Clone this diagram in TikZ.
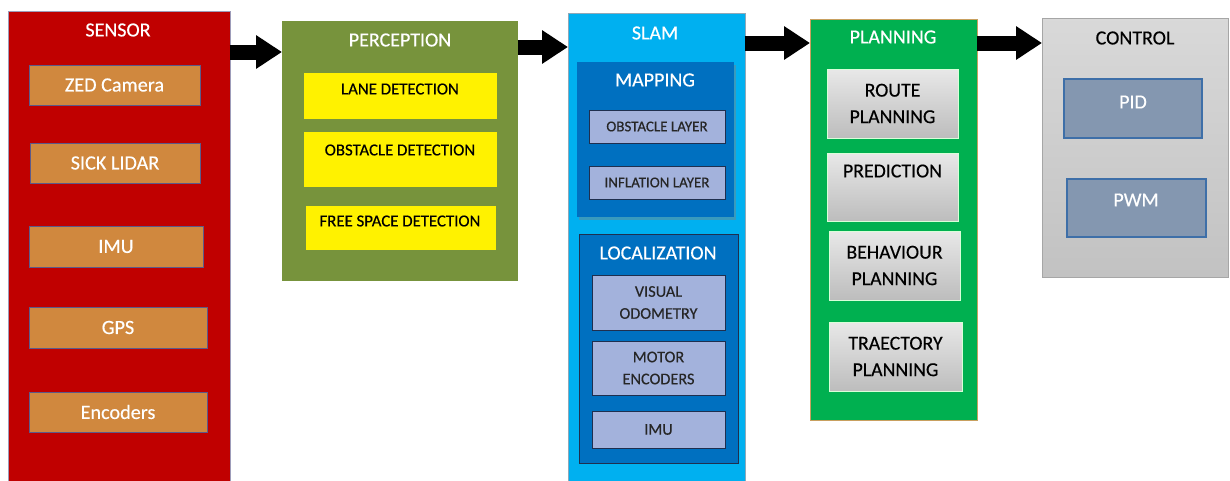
\documentclass[tikz,border=0pt]{standalone}
\usepackage{fontspec}
\setmainfont{Carlito}[FakeBold=0.35]
\usetikzlibrary{arrows.meta,shadows}

\definecolor{sensred}{HTML}{C00000}
\definecolor{sensitem}{HTML}{D0883E}
\definecolor{sensedge}{HTML}{5C5A8A}
\definecolor{percgreen}{HTML}{77933C}
\definecolor{slamblue}{HTML}{00B0F0}
\definecolor{slamedge}{HTML}{8FA8B8}
\definecolor{deepblue}{HTML}{0070C0}
\definecolor{lavender}{HTML}{A3B2DC}
\definecolor{navyedge}{HTML}{1F2F4F}
\definecolor{plangreen}{HTML}{00B050}
\definecolor{tanedge}{HTML}{C8A060}
\definecolor{ctrlslate}{HTML}{8497B0}
\definecolor{ctrledge}{HTML}{3E6FA8}

\newcommand\fs[2]{\fontsize{#1}{#2}\selectfont}
% block from (x1,y1) to (x2,y2) in pixel-like units
\newcommand\blk[7]{\node[#6, minimum width={#4-#2}, minimum height={#5-#3}] (#1) at ({(#2+#4)/2},{(#3+#5)/2}) {#7};}

\tikzset{
  every node/.style={inner sep=0pt, outer sep=0pt},
  panel/.style={rectangle},
  sensorpanel/.style={panel, fill=sensred, draw=sensedge!60, line width=0.6pt},
  sensoritem/.style={panel, fill=sensitem, draw=sensedge, line width=1pt, text=white, font=\fs{20.2}{24}},
  percpanel/.style={panel, fill=percgreen},
  percitem/.style={panel, fill=yellow},
  perctext/.style={text=black, font=\fs{16.8}{20}},
  slampanel/.style={panel, fill=slamblue, draw=slamedge, line width=0.6pt},
  mappanel/.style={panel, fill=deepblue, drop shadow={shadow xshift=1.5pt, shadow yshift=-2.5pt, opacity=0.45}},
  locpanel/.style={panel, fill=deepblue, draw=navyedge, line width=0.8pt},
  mapitem/.style={panel, fill=lavender, draw=navyedge, line width=0.8pt, text=black!85, font=\fs{15}{18}},
  locitem/.style={panel, fill=lavender, draw=navyedge, line width=0.8pt, text=black!85, font=\fs{16.3}{22}, align=center},
  planpanel/.style={panel, fill=plangreen, draw=tanedge, line width=0.8pt},
  planitem/.style={panel, top color=black!9, bottom color=black!26, draw=green!15, line width=1pt, text=black, font=\fs{19.8}{26.5}, align=center},
  ctrlpanel/.style={panel, top color=black!15, bottom color=black!24, draw=black!35, line width=0.6pt},
  ctrlitem/.style={panel, fill=ctrlslate, draw=ctrledge, line width=1.2pt},
  titlew/.style={text=white, font=\fs{20}{24}},
  titleb/.style={text=black, font=\fs{20}{24}},
  itemw/.style={text=white, font=\fs{20}{24}},
  itemb/.style={text=black, font=\fs{19.8}{24}},
  bigarrow/.style={line width=15pt, -{Triangle[length=26pt, width=32pt]}, shorten <=-0.5pt},
}

\begin{document}
\begin{tikzpicture}[x=1pt, y=-1pt]
\useasboundingbox[fill=white] (0,0) rectangle (1230,480);

% ---------- SENSOR ----------
\blk{sensor}{8}{11}{230}{484}{sensorpanel}{}
\node[titlew] (sensorT) at (118,30) {SENSOR};
\blk{zed}{29}{65}{200}{105}{sensoritem}{ZED Camera}
\blk{lidar}{30}{143}{200}{183}{sensoritem}{SICK LIDAR}
\blk{simu}{29}{226}{203}{267}{sensoritem}{IMU}
\blk{gps}{29}{307}{207}{348}{sensoritem}{GPS}
\blk{enc}{29}{392}{207}{432}{sensoritem}{Encoders}

% ---------- PERCEPTION ----------
\blk{perc}{282}{21}{518}{281}{percpanel}{}
\node[titlew] (percT) at (400,40) {PERCEPTION};
\blk{lane}{304}{73}{497}{119}{percitem}{}
\node[perctext] (laneT) at (400,89) {LANE DETECTION};
\blk{obst}{304}{132}{497}{187}{percitem}{}
\node[perctext] (obstT) at (400,150) {OBSTACLE DETECTION};
\blk{free}{306}{206}{496}{250}{percitem}{}
\node[perctext] (freeT) at (400,221) {FREE SPACE DETECTION};

% ---------- SLAM ----------
\blk{slam}{568}{13}{745}{484}{slampanel}{}
\node[titlew] (slamT) at (655,33) {SLAM};
\blk{mapping}{577}{62}{734}{217}{mappanel}{}
\node[titlew] (mapT) at (655,80) {MAPPING};
\blk{olayer}{589}{110}{725}{143}{mapitem}{OBSTACLE LAYER}
\blk{ilayer}{589}{166}{725}{199}{mapitem}{INFLATION LAYER}
\blk{loc}{579}{234}{738}{463}{locpanel}{}
\node[titlew] (locT) at (658,253) {LOCALIZATION};
\blk{vodo}{592}{275}{725}{330}{locitem}{VISUAL\\ODOMETRY}
\blk{menc}{592}{341}{725}{395}{locitem}{MOTOR\\ENCODERS}
\blk{limu}{592}{411}{725}{448}{locitem}{IMU}

% ---------- PLANNING ----------
\blk{plan}{810}{19}{977}{420}{planpanel}{}
\node[titlew] (planT) at (893,37) {PLANNING};
\blk{route}{827}{69}{958}{138}{planitem}{ROUTE\\PLANNING}
\blk{pred}{827}{153}{958}{221}{planitem}{}
\node[itemb] (predT) at (892.5,171) {PREDICTION};
\blk{behav}{829}{231}{960}{300}{planitem}{BEHAVIOUR\\PLANNING}
\blk{traj}{829}{322}{962}{391}{planitem}{TRAECTORY\\PLANNING}

% ---------- CONTROL ----------
\blk{ctrl}{1042}{18}{1228}{277}{ctrlpanel}{}
\node[titleb] (ctrlT) at (1135,38) {CONTROL};
\blk{pid}{1064}{79}{1202}{138}{ctrlitem}{}
\node[itemw] (pidT) at (1133,102) {PID};
\blk{pwm}{1067}{179}{1206}{237}{ctrlitem}{}
\node[itemw] (pwmT) at (1136,200) {PWM};

% ---------- flow arrows ----------
\coordinate (r1) at (0,52);
\coordinate (r2) at (0,47);
\coordinate (r3) at (0,43);
\coordinate (r4) at (0,43);
\draw[bigarrow] (sensor.east |- r1) -- (perc.west |- r1);
\draw[bigarrow] (perc.east |- r2) -- (slam.west |- r2);
\draw[bigarrow] (slam.east |- r3) -- (plan.west |- r3);
\draw[bigarrow] (plan.east |- r4) -- (ctrl.west |- r4);
\end{tikzpicture}
\end{document}
